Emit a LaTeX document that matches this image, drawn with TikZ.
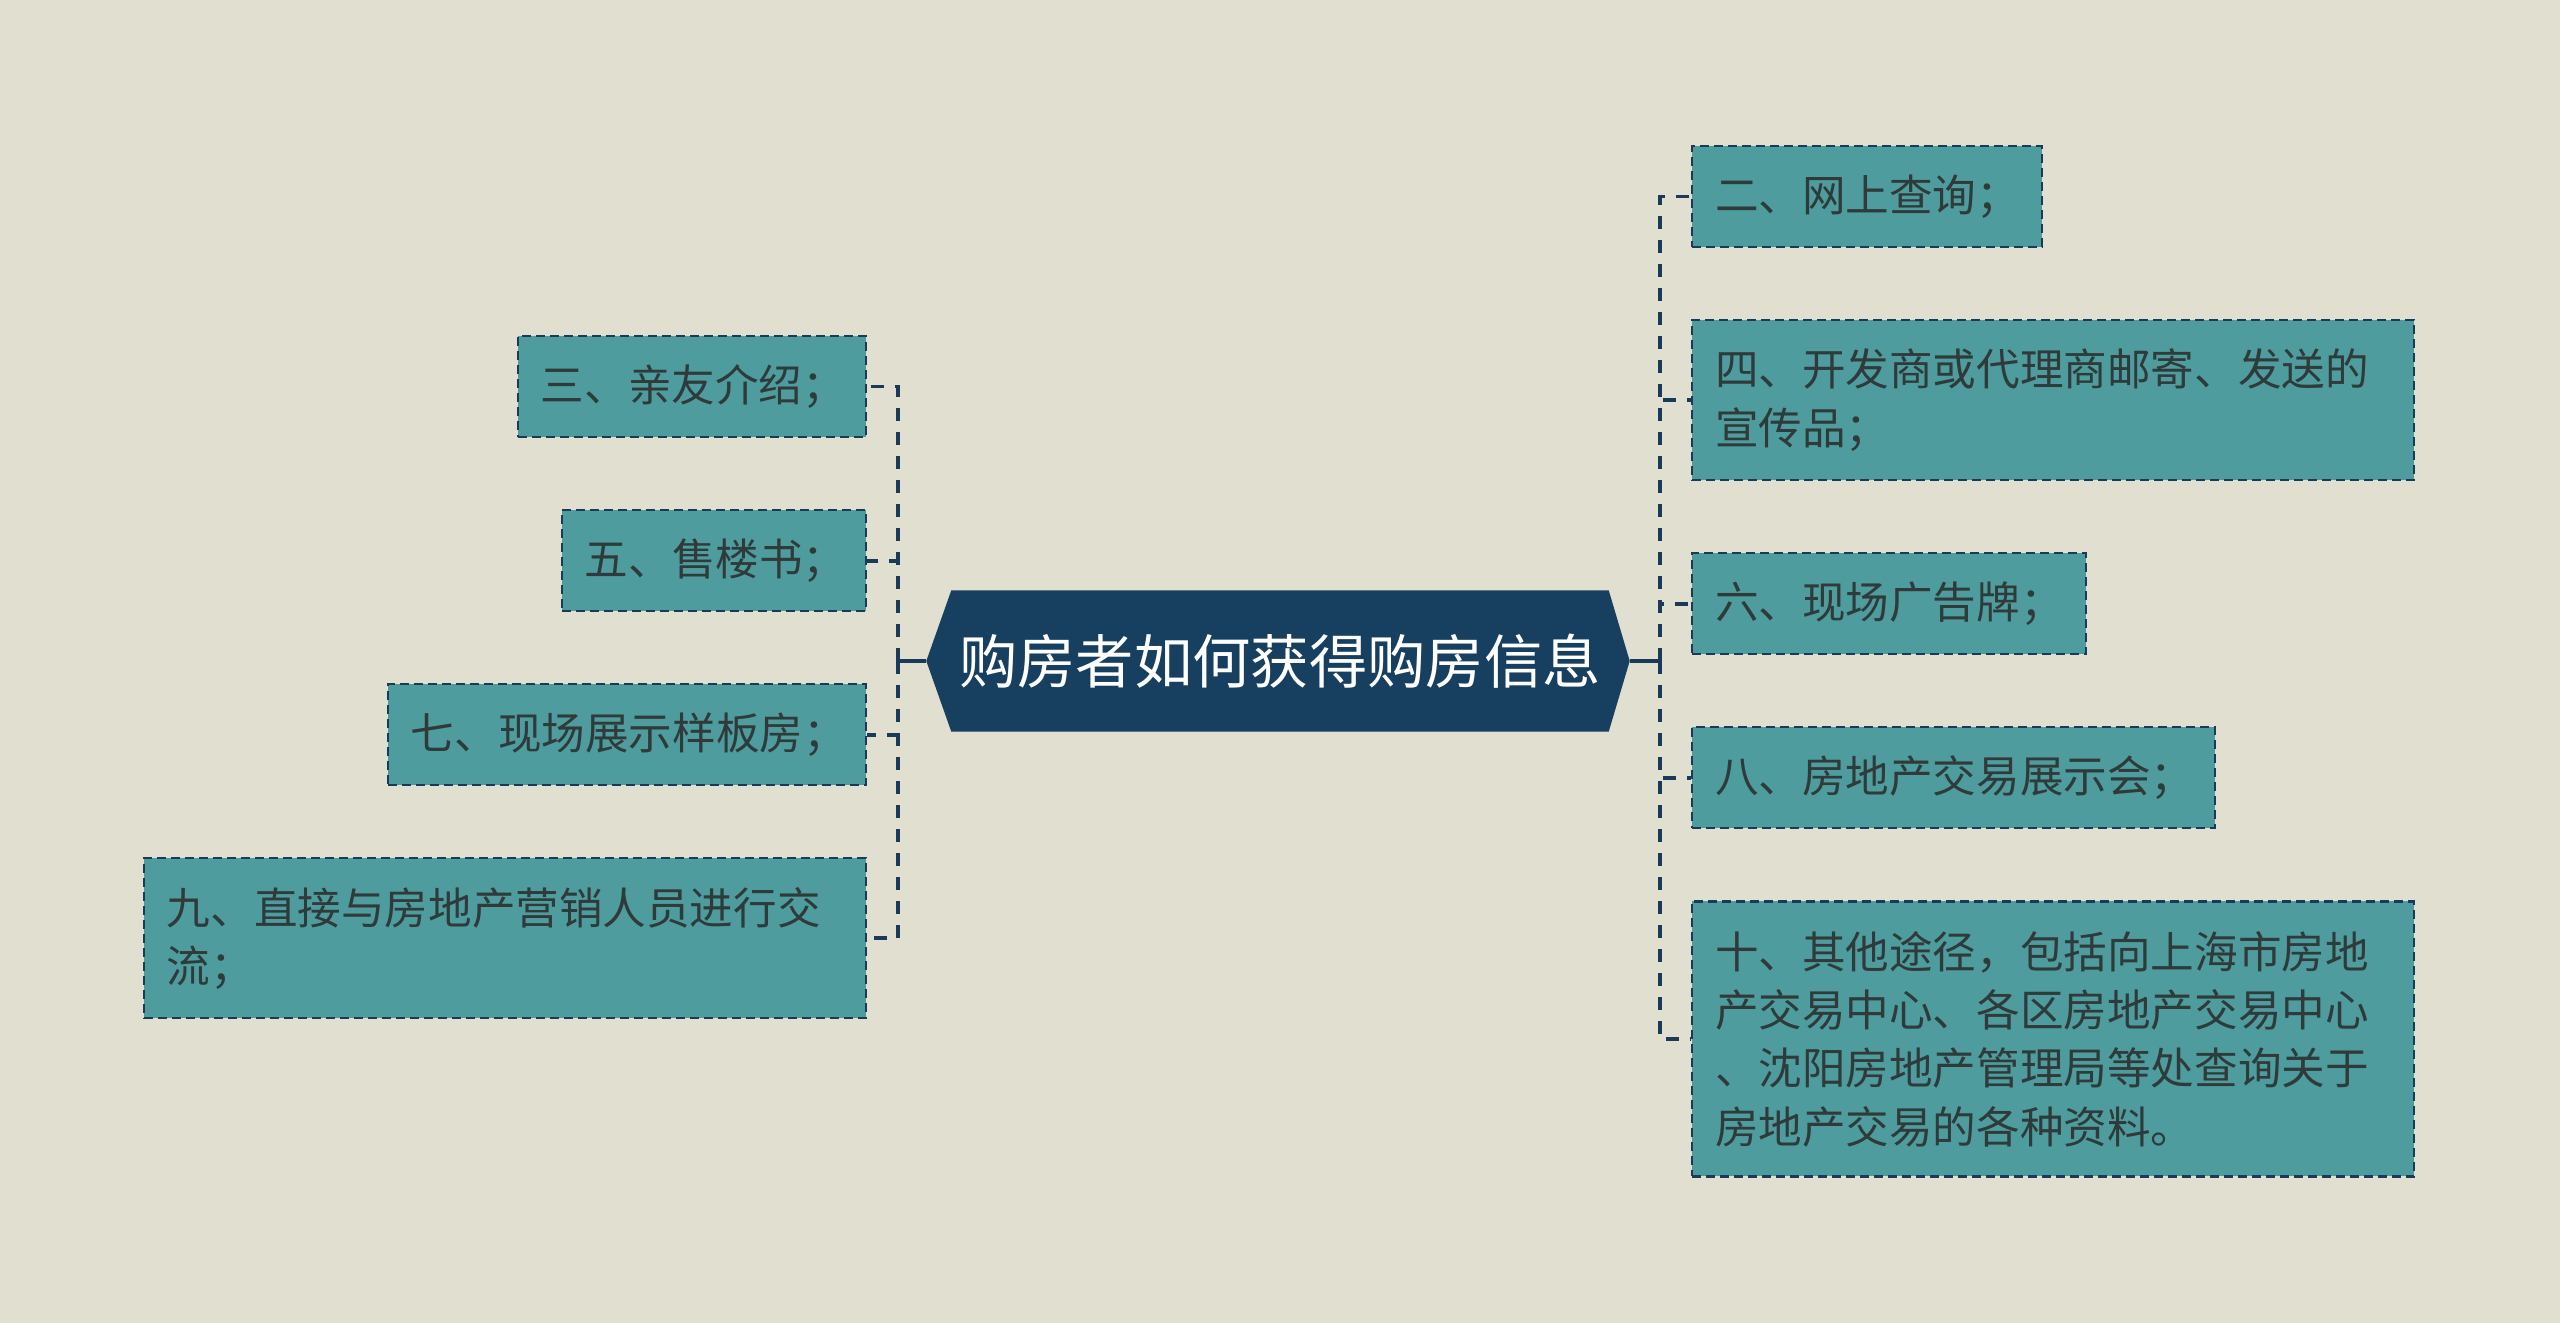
\documentclass[tikz,border=0pt]{standalone}
\usepackage{fontspec}
\setmainfont{Noto Sans CJK SC}
\usepackage{tikz}
\usetikzlibrary{positioning, backgrounds}
\definecolor{pagebg}{HTML}{E0DFD0}
\definecolor{topicblue}{HTML}{173F5F}
\definecolor{leafteal}{HTML}{4E9C9E}
\definecolor{linenavy}{HTML}{1B3A57}
\definecolor{leaftext}{HTML}{2F3A3A}

\begin{document}
\begin{tikzpicture}[
    topic/.style={rectangle, text=white, minimum width=6.56cm, minimum height=1.40cm, inner sep=0pt, font=\fontsize{16.6}{20}\selectfont},
    leaf/.style={rectangle, draw=linenavy, fill=leafteal, dash pattern=on 0.09cm off 0.05cm, line width=0.6pt, text width=#1, align=left, inner xsep=0.23cm, minimum height=1.01cm, text=leaftext, font=\fontsize{12.4}{16.6}\selectfont},
    link/.style={draw=linenavy, line width=1.1pt, dash pattern=on 0.13cm off 0.11cm}
]
\begin{scope}[on background layer]
\fill[pagebg] (0,0) rectangle (25.6,-13.23);
\end{scope}
\useasboundingbox (0,0) rectangle (25.6,-13.23);

\node[topic] (topic) at (12.80,-6.61) {购房者如何获得购房信息};
\coordinate (ltip) at ([xshift=-0.25cm]topic.west);
\coordinate (rtip) at ([xshift=0.21cm]topic.east);
\begin{scope}[on background layer]
\fill[topicblue] (topic.north west) -- (topic.north east) -- (rtip) -- (topic.south east) -- (topic.south west) -- (ltip) -- cycle;
\end{scope}

% left side
\node[leaf=3.02cm, anchor=north east] (friends) at (8.67,-3.35) {三、亲友介绍；};
\node[leaf=2.58cm, below=0.71cm of friends.south east, anchor=north east] (brochure) {五、售楼书；};
\node[leaf=4.32cm, below=0.71cm of brochure.south east, anchor=north east] (showroom) {七、现场展示样板房；};
\node[leaf=6.76cm, minimum height=1.60cm, below=0.71cm of showroom.south east, anchor=north east] (sales) {九、直接与房地产营销人员进行交\\流；};

% right side
\node[leaf=3.04cm, anchor=north west] (online) at (16.91,-1.45) {二、网上查询；};
\node[leaf=6.76cm, minimum height=1.60cm, below=0.71cm of online.south west, anchor=north west] (mailing) {四、开发商或代理商邮寄、发送的\\宣传品；};
\node[leaf=3.48cm, below=0.71cm of mailing.south west, anchor=north west] (billboard) {六、现场广告牌；};
\node[leaf=4.77cm, below=0.71cm of billboard.south west, anchor=north west] (expo) {八、房地产交易展示会；};
\node[leaf=6.76cm, minimum height=2.75cm, below=0.71cm of expo.south west, anchor=north west] (other) {十、其他途径，包括向上海市房地\\产交易中心、各区房地产交易中心\\、沈阳房地产管理局等处查询关于\\房地产交易的各种资料。};

% connectors
\coordinate (ljoin) at (8.98,-6.61);
\coordinate (rjoin) at (16.60,-6.61);
\draw[link, solid] (ltip) -- (ljoin);
\draw[link, solid] (rtip) -- (rjoin);
\foreach \n in {friends, brochure, showroom, sales}
    \draw[link] (ljoin) |- (\n.east);
\foreach \n in {online, mailing, billboard, expo, other}
    \draw[link] (rjoin) |- (\n.west);

\end{tikzpicture}
\end{document}
